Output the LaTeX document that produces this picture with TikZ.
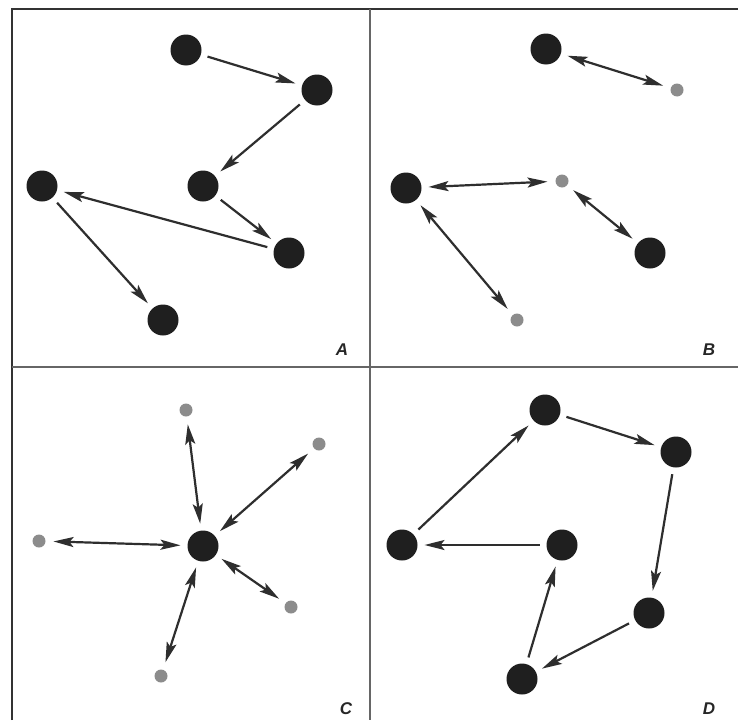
\documentclass[tikz,border=0pt]{standalone}
\usepackage{fontspec}
\setmainfont{Liberation Sans}
\usetikzlibrary{arrows.meta}
\begin{document}
\begin{tikzpicture}[x=1pt,y=-1pt,
  big/.style={circle,fill=black!88,minimum size=31pt,inner sep=0pt,outer sep=7pt},
  small/.style={circle,fill=black!45,minimum size=13pt,inner sep=0pt,outer sep=8pt},
  link/.style={draw=black!82,line width=2.2pt,-{Stealth[length=20pt,width=10pt,inset=4pt]}},
  dlink/.style={draw=black!82,line width=2.2pt,{Stealth[length=20pt,width=10pt,inset=4pt]}-{Stealth[length=20pt,width=10pt,inset=4pt]}},
  tag/.style={font=\bfseries\itshape\fontsize{17}{17}\selectfont,text=black!85}]
\useasboundingbox (0,0) rectangle (738,720);
\fill[white] (0,0) rectangle (738,720);
% outer frame and panel dividers
\draw[black!80,line width=2.5pt] (12,720) -- (12,9) -- (738,9);
\draw[black!60,line width=1.5pt] (370,9) -- (370,720);
\draw[black!60,line width=1.5pt] (12,367) -- (738,367);

% panel A: a chain of one-way moves
\node[big] (a1) at (186,50) {};
\node[big] (a2) at (317,90) {};
\node[big] (a3) at (203,186) {};
\node[big] (a4) at (42,186) {};
\node[big] (a5) at (289,253) {};
\node[big] (a6) at (163,320) {};
\draw[link] (a1) -- (a2);
\draw[link] (a2) -- (a3);
\draw[link] (a3) -- (a5);
\draw[link] (a5) -- (a4);
\draw[link] (a4) -- (a6);
\node[tag] (la) at (342,350) {A};

% panel B: two-way exchanges
\node[big] (b1) at (546,49) {};
\node[small] (b2) at (677,90) {};
\node[big] (b3) at (406,188) {};
\node[small] (b4) at (562,181) {};
\node[big] (b5) at (650,253) {};
\node[small] (b6) at (517,320) {};
\draw[dlink] (b1) -- (b2);
\draw[dlink] (b3) -- (b4);
\draw[dlink] (b4) -- (b5);
\draw[dlink] (b3) -- (b6);
\node[tag] (lb) at (709,350) {B};

% panel C: a hub with spokes
\node[big] (c0) at (203,546) {};
\node[small] (c1) at (186,410) {};
\node[small] (c2) at (319,444) {};
\node[small] (c3) at (39,541) {};
\node[small] (c4) at (291,607) {};
\node[small] (c5) at (161,676) {};
\foreach \s in {c1,c2,c3,c4,c5} \draw[dlink] (c0) -- (\s);
\node[tag] (lc) at (346,709) {C};

% panel D: a closed cycle
\node[big] (d1) at (545,410) {};
\node[big] (d2) at (676,452) {};
\node[big] (d3) at (649,613) {};
\node[big] (d4) at (522,679) {};
\node[big] (d5) at (562,545) {};
\node[big] (d6) at (402,545) {};
\draw[link] (d6) -- (d1);
\draw[link] (d1) -- (d2);
\draw[link] (d2) -- (d3);
\draw[link] (d3) -- (d4);
\draw[link] (d4) -- (d5);
\draw[link] (d5) -- (d6);
\node[tag] (ld) at (709,709) {D};
\end{tikzpicture}
\end{document}
